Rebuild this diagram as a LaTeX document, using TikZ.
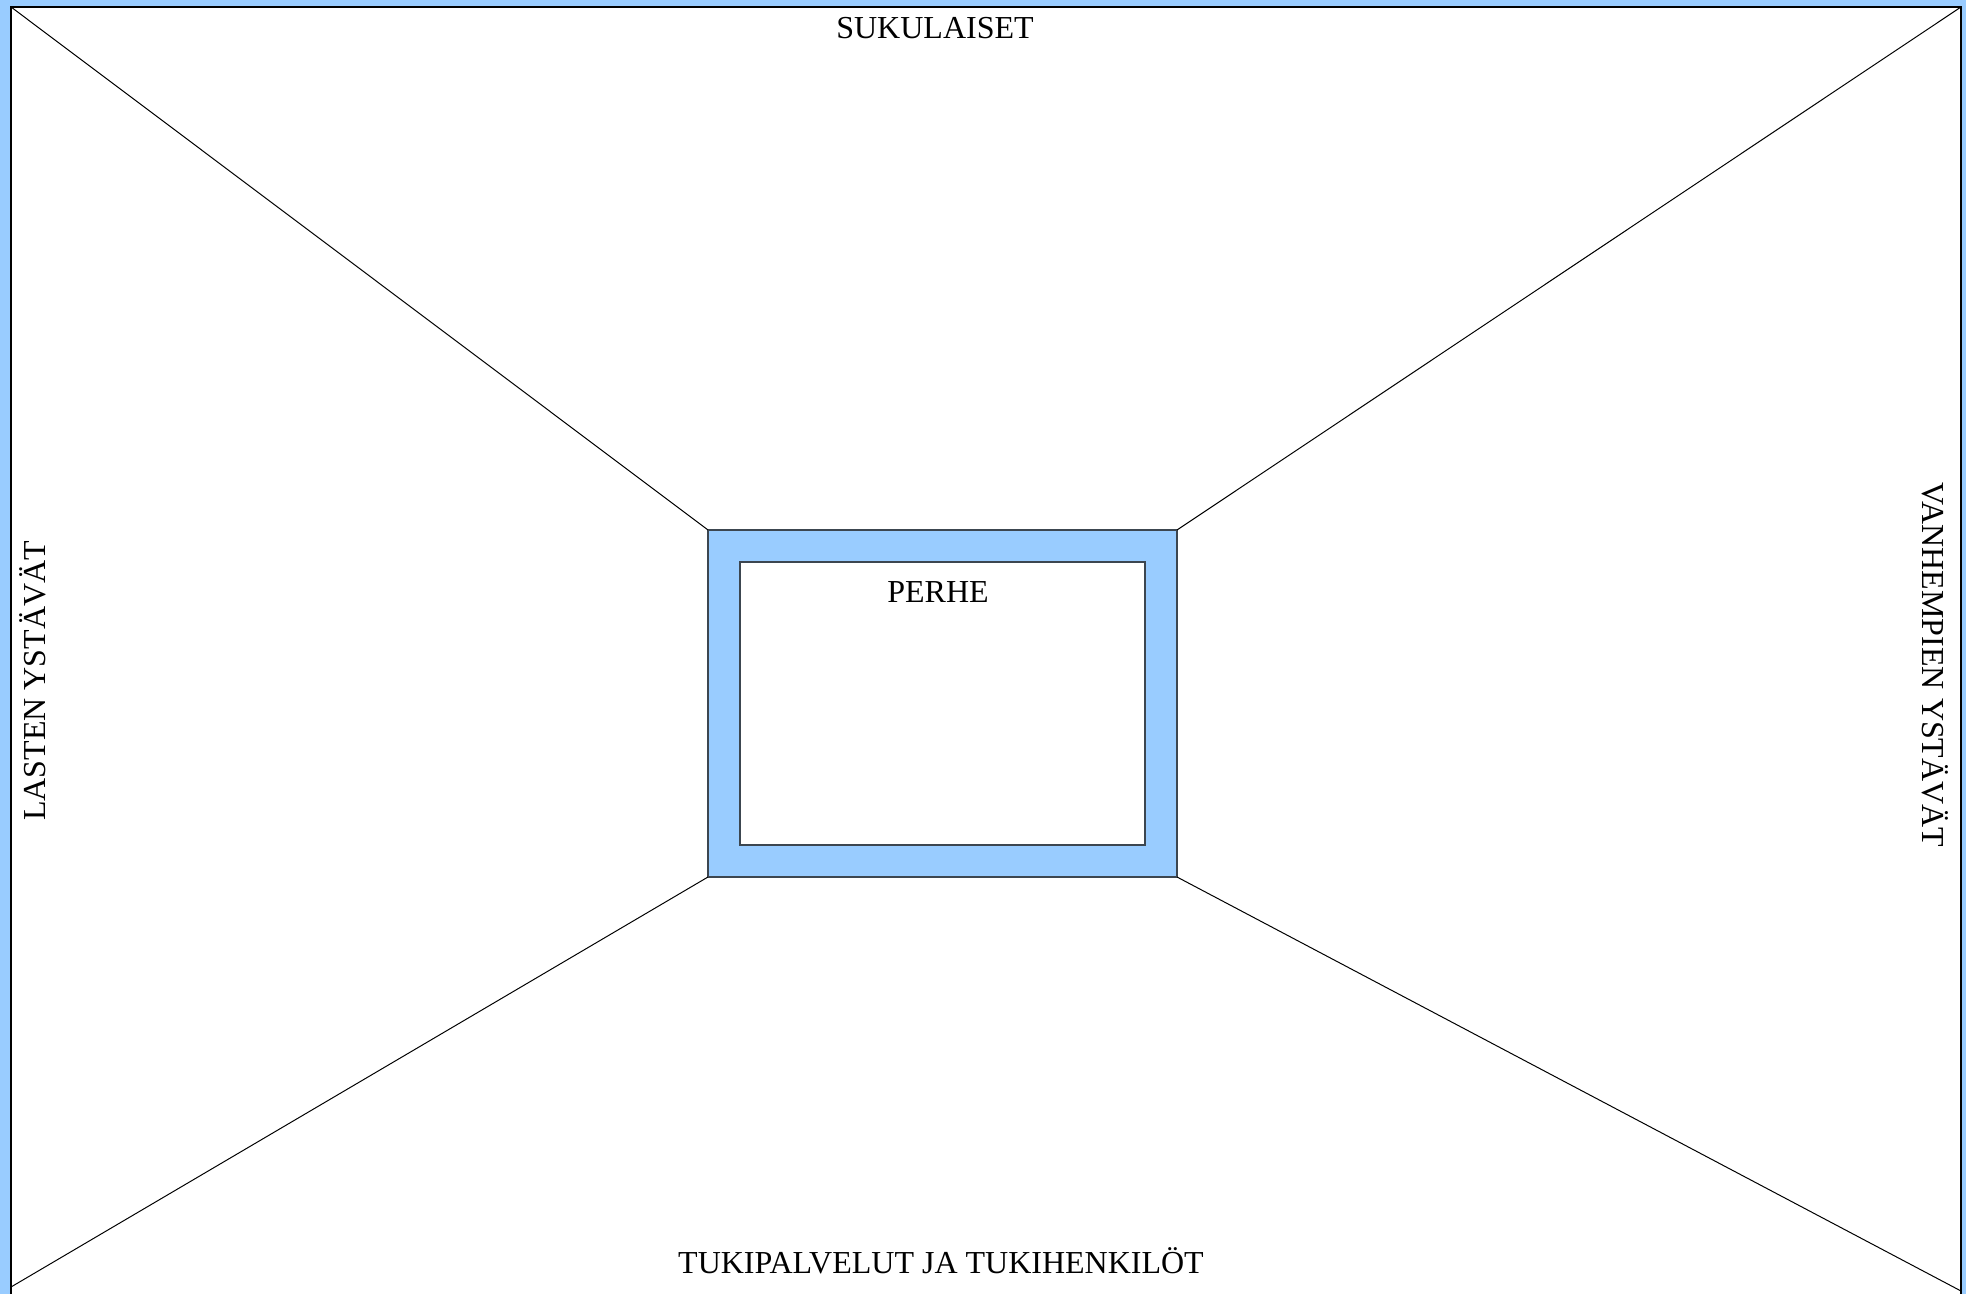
\documentclass[tikz,border=0pt]{standalone}
\usepackage{fontspec}
\setmainfont{Liberation Serif}
\definecolor{paleblue}{HTML}{99CCFF}
\definecolor{framegray}{HTML}{3C4650}
\begin{document}
\begin{tikzpicture}[x=0.5pt,y=-0.5pt,
  lbl/.style={inner sep=0pt, font=\fontsize{16}{19}\selectfont},
  thin line/.style={draw=black, line width=0.5pt}]
\clip (0,0) rectangle (1966,1294);
\path[use as bounding box] (0,0) rectangle (1966,1294);
\fill[paleblue] (0,0) rectangle (1966,1294);
% outer white area
\coordinate (OTL) at (11,7);
\coordinate (OTR) at (1961,7);
\coordinate (OBL) at (11,1287);
\coordinate (OBR) at (1961,1291);
\draw[fill=white, line width=0.9pt] (11,7) rectangle (1961,1310);
% central frame
\coordinate (FTL) at (708,530);
\coordinate (FTR) at (1177,530);
\coordinate (FBL) at (708,877);
\coordinate (FBR) at (1177,877);
\draw[fill=paleblue, draw=framegray, line width=0.6pt] (FTL) rectangle (FBR);
\coordinate (ITL) at (740,562);
\coordinate (IBR) at (1145,845);
\draw[fill=white, draw=framegray, line width=0.6pt] (ITL) rectangle (IBR);
% diagonals
\draw[thin line] (OTL) -- (FTL);
\draw[thin line] (OTR) -- (FTR);
\draw[thin line] (OBL) -- (FBL);
\draw[thin line] (OBR) -- (FBR);
% labels
\node[lbl] (suku) at (935,28) {SUKULAISET};
\node[lbl] (perhe) at (938,592) {PERHE};
\node[lbl] (tuki) at (941,1261) {TUKIPALVELUT JA TUKIHENKILÖT};
\node[lbl, rotate=90] (lasten) at (33,681) {LASTEN YSTÄVÄT};
\node[lbl, rotate=-90] (vanh) at (1935,665) {VANHEMPIEN YSTÄVÄT};
\end{tikzpicture}
\end{document}
